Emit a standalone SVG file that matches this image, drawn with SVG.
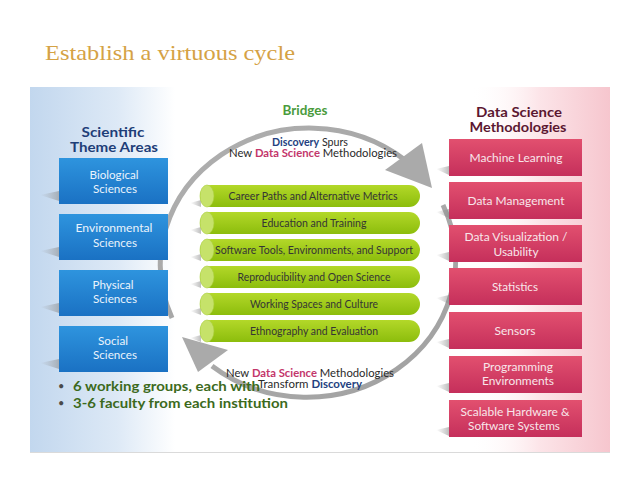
<svg xmlns="http://www.w3.org/2000/svg" width="638" height="493" viewBox="0 0 638 493">
<defs>
<linearGradient id="bgBlue" x1="30" y1="0" x2="175" y2="0" gradientUnits="userSpaceOnUse">
<stop offset="0" stop-color="#C2D7EE"/><stop offset="0.6" stop-color="#DDE9F6"/><stop offset="1" stop-color="#FFFFFF"/>
</linearGradient>
<linearGradient id="bgPink" x1="470" y1="0" x2="610" y2="0" gradientUnits="userSpaceOnUse">
<stop offset="0" stop-color="#FFFFFF" stop-opacity="0"/><stop offset="0.5" stop-color="#FCE4E8"/><stop offset="1" stop-color="#F6C6CE"/>
</linearGradient>
<linearGradient id="gBlue" x1="0" y1="0" x2="0" y2="1">
<stop offset="0" stop-color="#2E94DE"/><stop offset="1" stop-color="#1A71C3"/>
</linearGradient>
<linearGradient id="gPink" x1="0" y1="0" x2="0" y2="1">
<stop offset="0" stop-color="#E2506F"/><stop offset="1" stop-color="#C52F5B"/>
</linearGradient>
<linearGradient id="gGreen" x1="0" y1="0" x2="0" y2="1">
<stop offset="0" stop-color="#B3D829"/><stop offset="1" stop-color="#8CBD0C"/>
</linearGradient>
<linearGradient id="sh" x1="0" y1="0" x2="1" y2="0">
<stop offset="0" stop-color="#999" stop-opacity="0"/><stop offset="1" stop-color="#888" stop-opacity="0.55"/>
</linearGradient>
<linearGradient id="gArc" x1="0" y1="0" x2="1" y2="1">
<stop offset="0" stop-color="#B0B0B0"/><stop offset="1" stop-color="#A0A0A0"/>
</linearGradient>
<style>
.t{font-family:Lato,"Open Sans","Liberation Sans",sans-serif}
.blue rect{fill:url(#gBlue)}
.blue text{fill:#EAF3FC;font-size:11.5px;text-anchor:middle}
.pink rect{fill:url(#gPink)}
.pink text{fill:#F8E6EA;font-size:11.5px;text-anchor:middle}
.bar .body{fill:url(#gGreen)}
.bar ellipse{fill:#C6E26A;stroke:#A9CF3A;stroke-width:0.6}
.bar text{fill:#353535;font-size:10.5px;text-anchor:middle}
.shd{fill:url(#sh)}
.head{font-weight:bold;font-size:13.5px;text-anchor:middle}
.arc{fill:none;stroke:url(#gArc);stroke-width:5}
.head2{fill:#AAAAAA}
.cap{font-size:10.5px;text-anchor:middle;fill:#2A2A2A}
.b{font-weight:bold}
.bul{font-weight:bold;font-size:14px;fill:#3C6A1C}
.dot{font-size:11px;fill:#4A4A4A}
</style>
</defs>
<rect width="638" height="493" fill="#FFFFFF"/>
<text x="45" y="60" font-family="Liberation Serif,serif" font-size="21.5" fill="#D5A245" textLength="250" lengthAdjust="spacingAndGlyphs">Establish a virtuous cycle</text>
<rect x="30" y="87" width="580" height="365" fill="url(#bgBlue)"/>
<rect x="470" y="87" width="140" height="365" fill="url(#bgPink)"/>
<line x1="30" y1="452.5" x2="610" y2="452.5" stroke="#DADADA" stroke-width="1"/>

<g id="connectors">
<path class="arc" d="M172,318 A149,137 0 0 1 405,160"/>
<polygon class="head2" points="385,170 422,143 432,188"/>
<path class="arc" d="M443,205 A149,137 0 0 1 212,366"/>
<polygon class="head2" points="182,337 228,350 198,372"/>
</g>

<g class="t">
<text class="head" x="113" y="137" fill="#1E3E78" textLength="63" lengthAdjust="spacingAndGlyphs">Scientific</text>
<text class="head" x="114" y="152" fill="#1E3E78" textLength="88" lengthAdjust="spacingAndGlyphs">Theme Areas</text>
<text class="head" x="305" y="115" fill="#4A9B3C" textLength="45" lengthAdjust="spacingAndGlyphs">Bridges</text>
<text class="head" x="519" y="117" fill="#5B1731" textLength="86" lengthAdjust="spacingAndGlyphs">Data Science</text>
<text class="head" x="518" y="132" fill="#5B1731" textLength="97" lengthAdjust="spacingAndGlyphs">Methodologies</text>
<text class="cap" x="310" y="146" textLength="76" lengthAdjust="spacingAndGlyphs"><tspan class="b" fill="#243F80">Discovery</tspan> Spurs</text>
<text class="cap" x="313" y="157" textLength="168" lengthAdjust="spacingAndGlyphs">New <tspan class="b" fill="#C3366B">Data Science</tspan> Methodologies</text>
<text class="cap" x="310" y="377" textLength="168" lengthAdjust="spacingAndGlyphs">New <tspan class="b" fill="#C3366B">Data Science</tspan> Methodologies</text>
<text class="cap" x="310" y="388" textLength="104" lengthAdjust="spacingAndGlyphs">Transform <tspan class="b" fill="#243F80">Discovery</tspan></text>
</g>

<g class="t blue">
<g id="biological"><polygon class="shd" points="40,195 59,191 59,201"/><rect x="59" y="158" width="109" height="46"/><text x="114" y="178.5" textLength="49" lengthAdjust="spacingAndGlyphs">Biological</text><text x="115" y="192.5" textLength="44" lengthAdjust="spacingAndGlyphs">Sciences</text></g>
<g id="environmental"><polygon class="shd" points="40,251 59,247 59,257"/><rect x="59" y="214" width="109" height="46"/><text x="114" y="232" textLength="77" lengthAdjust="spacingAndGlyphs">Environmental</text><text x="115" y="247" textLength="44" lengthAdjust="spacingAndGlyphs">Sciences</text></g>
<g id="physical"><polygon class="shd" points="40,307 59,303 59,313"/><rect x="59" y="270" width="109" height="46"/><text x="113" y="288.5" textLength="41" lengthAdjust="spacingAndGlyphs">Physical</text><text x="115" y="303" textLength="44" lengthAdjust="spacingAndGlyphs">Sciences</text></g>
<g id="social"><polygon class="shd" points="40,363 59,359 59,369"/><rect x="59" y="326" width="109" height="46"/><text x="113" y="344.5" textLength="30" lengthAdjust="spacingAndGlyphs">Social</text><text x="115" y="359" textLength="44" lengthAdjust="spacingAndGlyphs">Sciences</text></g>
</g>

<g class="t pink">
<g id="ml"><polygon class="shd" points="436,169 449,166 449,175"/><rect x="449" y="139" width="133" height="37"/><text x="516" y="161.5" textLength="93" lengthAdjust="spacingAndGlyphs">Machine Learning</text></g>
<g id="dm"><polygon class="shd" points="436,212 449,209 449,218"/><rect x="449" y="182" width="133" height="37"/><text x="516" y="204.5" textLength="97" lengthAdjust="spacingAndGlyphs">Data Management</text></g>
<g id="dv"><polygon class="shd" points="436,255 449,252 449,261"/><rect x="449" y="225" width="133" height="37"/><text x="516" y="240.5" textLength="103" lengthAdjust="spacingAndGlyphs">Data Visualization /</text><text x="516" y="256" textLength="45" lengthAdjust="spacingAndGlyphs">Usability</text></g>
<g id="stat"><polygon class="shd" points="436,298 449,295 449,304"/><rect x="449" y="268" width="133" height="37"/><text x="515" y="291" textLength="46" lengthAdjust="spacingAndGlyphs">Statistics</text></g>
<g id="sensors"><polygon class="shd" points="436,342 449,339 449,348"/><rect x="449" y="312" width="133" height="37"/><text x="515" y="335" textLength="41" lengthAdjust="spacingAndGlyphs">Sensors</text></g>
<g id="prog"><polygon class="shd" points="436,386 449,383 449,392"/><rect x="449" y="356" width="133" height="37"/><text x="518" y="370.5" textLength="70" lengthAdjust="spacingAndGlyphs">Programming</text><text x="518" y="385" textLength="72" lengthAdjust="spacingAndGlyphs">Environments</text></g>
<g id="scalable"><polygon class="shd" points="436,430 449,427 449,436"/><rect x="449" y="400" width="133" height="37"/><text x="515" y="415.5" textLength="109" lengthAdjust="spacingAndGlyphs">Scalable Hardware &amp;</text><text x="514" y="430" textLength="92" lengthAdjust="spacingAndGlyphs">Software Systems</text></g>
</g>

<g class="t bar">
<g id="bar1"><polygon class="shd" points="190,203 201,200 201,207"/><rect class="body" x="200" y="185" width="220" height="22" rx="11"/><ellipse cx="207" cy="196" rx="7" ry="11"/><text x="313" y="200" textLength="169" lengthAdjust="spacingAndGlyphs">Career Paths and Alternative Metrics</text></g>
<g id="bar2"><polygon class="shd" points="190,230 201,227 201,234"/><rect class="body" x="200" y="212" width="220" height="22" rx="11"/><ellipse cx="207" cy="223" rx="7" ry="11"/><text x="314" y="227" textLength="105" lengthAdjust="spacingAndGlyphs">Education and Training</text></g>
<g id="bar3"><polygon class="shd" points="190,257 201,254 201,261"/><rect class="body" x="200" y="239" width="220" height="22" rx="11"/><ellipse cx="207" cy="250" rx="7" ry="11"/><text x="314" y="254" textLength="198" lengthAdjust="spacingAndGlyphs">Software Tools, Environments, and Support</text></g>
<g id="bar4"><polygon class="shd" points="190,284 201,281 201,288"/><rect class="body" x="200" y="266" width="220" height="22" rx="11"/><ellipse cx="207" cy="277" rx="7" ry="11"/><text x="314" y="281" textLength="153" lengthAdjust="spacingAndGlyphs">Reproducibility and Open Science</text></g>
<g id="bar5"><polygon class="shd" points="190,311 201,308 201,315"/><rect class="body" x="200" y="293" width="220" height="22" rx="11"/><ellipse cx="207" cy="304" rx="7" ry="11"/><text x="314" y="308" textLength="128" lengthAdjust="spacingAndGlyphs">Working Spaces and Culture</text></g>
<g id="bar6"><polygon class="shd" points="190,338 201,335 201,342"/><rect class="body" x="200" y="320" width="220" height="22" rx="11"/><ellipse cx="207" cy="331" rx="7" ry="11"/><text x="314" y="335" textLength="128" lengthAdjust="spacingAndGlyphs">Ethnography and Evaluation</text></g>
</g>

<g class="t">
<text class="dot" x="58" y="390">•</text>
<text class="bul" x="73" y="391" textLength="187" lengthAdjust="spacingAndGlyphs">6 working groups, each with</text>
<text class="dot" x="58" y="407">•</text>
<text class="bul" x="73" y="408" textLength="215" lengthAdjust="spacingAndGlyphs">3-6 faculty from each institution</text>
</g>
</svg>
